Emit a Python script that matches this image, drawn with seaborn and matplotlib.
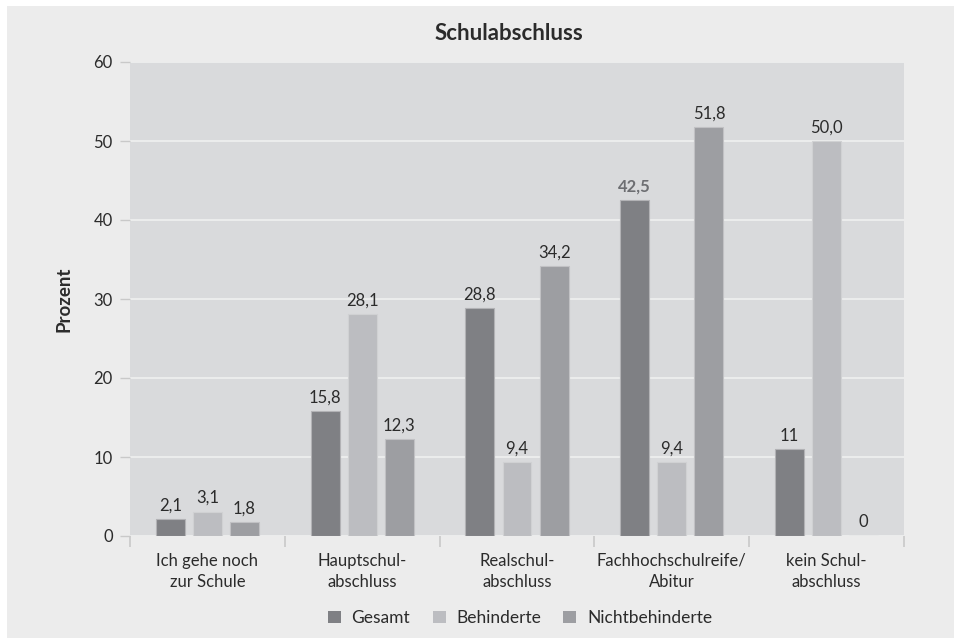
import matplotlib
matplotlib.use("Agg")
import matplotlib.pyplot as plt
import matplotlib.patches as mpatches
import matplotlib.colors as mcolors
import seaborn as sns
import pandas as pd

# data
categories = ["Ich gehe noch\nzur Schule", "Hauptschul-\nabschluss", "Realschul-\nabschluss",
              "Fachhochschulreife/\nAbitur", "kein Schul-\nabschluss"]
series = ["Gesamt", "Behinderte", "Nichtbehinderte"]
gesamt = [2.1, 15.8, 28.8, 42.5, 11]
behinderte = [3.1, 28.1, 9.4, 9.4, 50.0]
nichtbehinderte = [1.8, 12.3, 34.2, 51.8, 0]
labels_gesamt = ["2,1", "15,8", "28,8", "42,5", "11"]
labels_behinderte = ["3,1", "28,1", "9,4", "9,4", "50,0"]
labels_nichtbehinderte = ["1,8", "12,3", "34,2", "51,8", "0"]
y_ticks = [0, 10, 20, 30, 40, 50, 60]

colors = ["#7f8084", "#bcbdc1", "#9d9ea2"]
axes_bg = "#d9dadc"
fig_bg = "#ececec"
text_col = "#2b2b2b"

df = pd.DataFrame({
    "Kategorie": categories * 3,
    "Gruppe": [s for s in series for _ in categories],
    "Wert": gesamt + behinderte + nichtbehinderte,
})

sns.set_style("white")
plt.rcParams["font.family"] = ["Lato", "DejaVu Sans"]

fig = plt.figure(figsize=(9.55, 6.39), dpi=100)
fig.patch.set_facecolor("white")
fig.patches.append(mpatches.Rectangle((7 / 955, 1 / 639), 947 / 955, 632 / 639,
                                      transform=fig.transFigure, facecolor=fig_bg,
                                      edgecolor="none", zorder=-10))

ax = fig.add_axes([130 / 955, 1 - 536 / 639, 774 / 955, 474 / 639])
ax.set_facecolor(axes_bg)

sns.barplot(data=df, x="Kategorie", y="Wert", hue="Gruppe", order=categories,
            hue_order=series, palette=colors, width=0.72, gap=0.22,
            saturation=1, legend=False, ax=ax, zorder=3)

# lighter thin outline on the bars
for cont, col in zip(ax.containers, colors):
    edge = [(a + b) / 2 for a, b in zip(mcolors.to_rgb(col), mcolors.to_rgb("#e4e4e6"))]
    for p in cont:
        p.set_edgecolor(edge)
        p.set_linewidth(0.8)

all_labels = [labels_gesamt, labels_behinderte, labels_nichtbehinderte]
for cont, labs in zip(ax.containers, all_labels):
    texts = ax.bar_label(cont, labels=labs, padding=4, fontsize=12, color=text_col)
    for t in texts:
        if t.get_text() == "42,5":
            t.set_color("#6d6e72")
            t.set_fontweight("bold")

ax.set_ylim(0, 60)
ax.set_xlim(-0.5, len(categories) - 0.5)
ax.set_yticks(y_ticks)
ax.yaxis.grid(True, color="#eeeeee", linewidth=1.3, zorder=0)
ax.set_axisbelow(True)
for s in ax.spines.values():
    s.set_visible(False)

ax.tick_params(axis="y", length=7.5, width=1, color="#c9c9c9", pad=5,
               labelsize=12, labelcolor=text_col, left=True)
ax.set_xticks(range(len(categories)))
ax.set_xticklabels(categories, fontsize=12, color=text_col, linespacing=1.4)
ax.tick_params(axis="x", which="major", length=0, pad=12)
ax.set_xticks([i - 0.5 for i in range(len(categories) + 1)], minor=True)
ax.tick_params(axis="x", which="minor", length=8, width=1.2, color="#c9c9c9", bottom=True)

ax.set_xlabel("")
ax.set_ylabel("Prozent", fontsize=13.5, fontweight="bold", color=text_col)
ax.yaxis.set_label_coords(-0.074, 0.5)

fig.text(509 / 955, 1 - 33 / 639, "Schulabschluss", ha="center", va="center",
         fontsize=16, fontweight="bold", color=text_col)

handles = [mpatches.Patch(facecolor=c, edgecolor="none", label=s) for c, s in zip(colors, series)]
fig.legend(handles=handles, loc="center", bbox_to_anchor=(520 / 955, 1 - 618 / 639), ncol=3,
           frameon=False, fontsize=12.5, handlelength=0.75, handleheight=0.75,
           handletextpad=0.6, columnspacing=1.3, labelcolor=text_col)

fig.savefig("out.png", dpi=100, facecolor=fig.get_facecolor())
